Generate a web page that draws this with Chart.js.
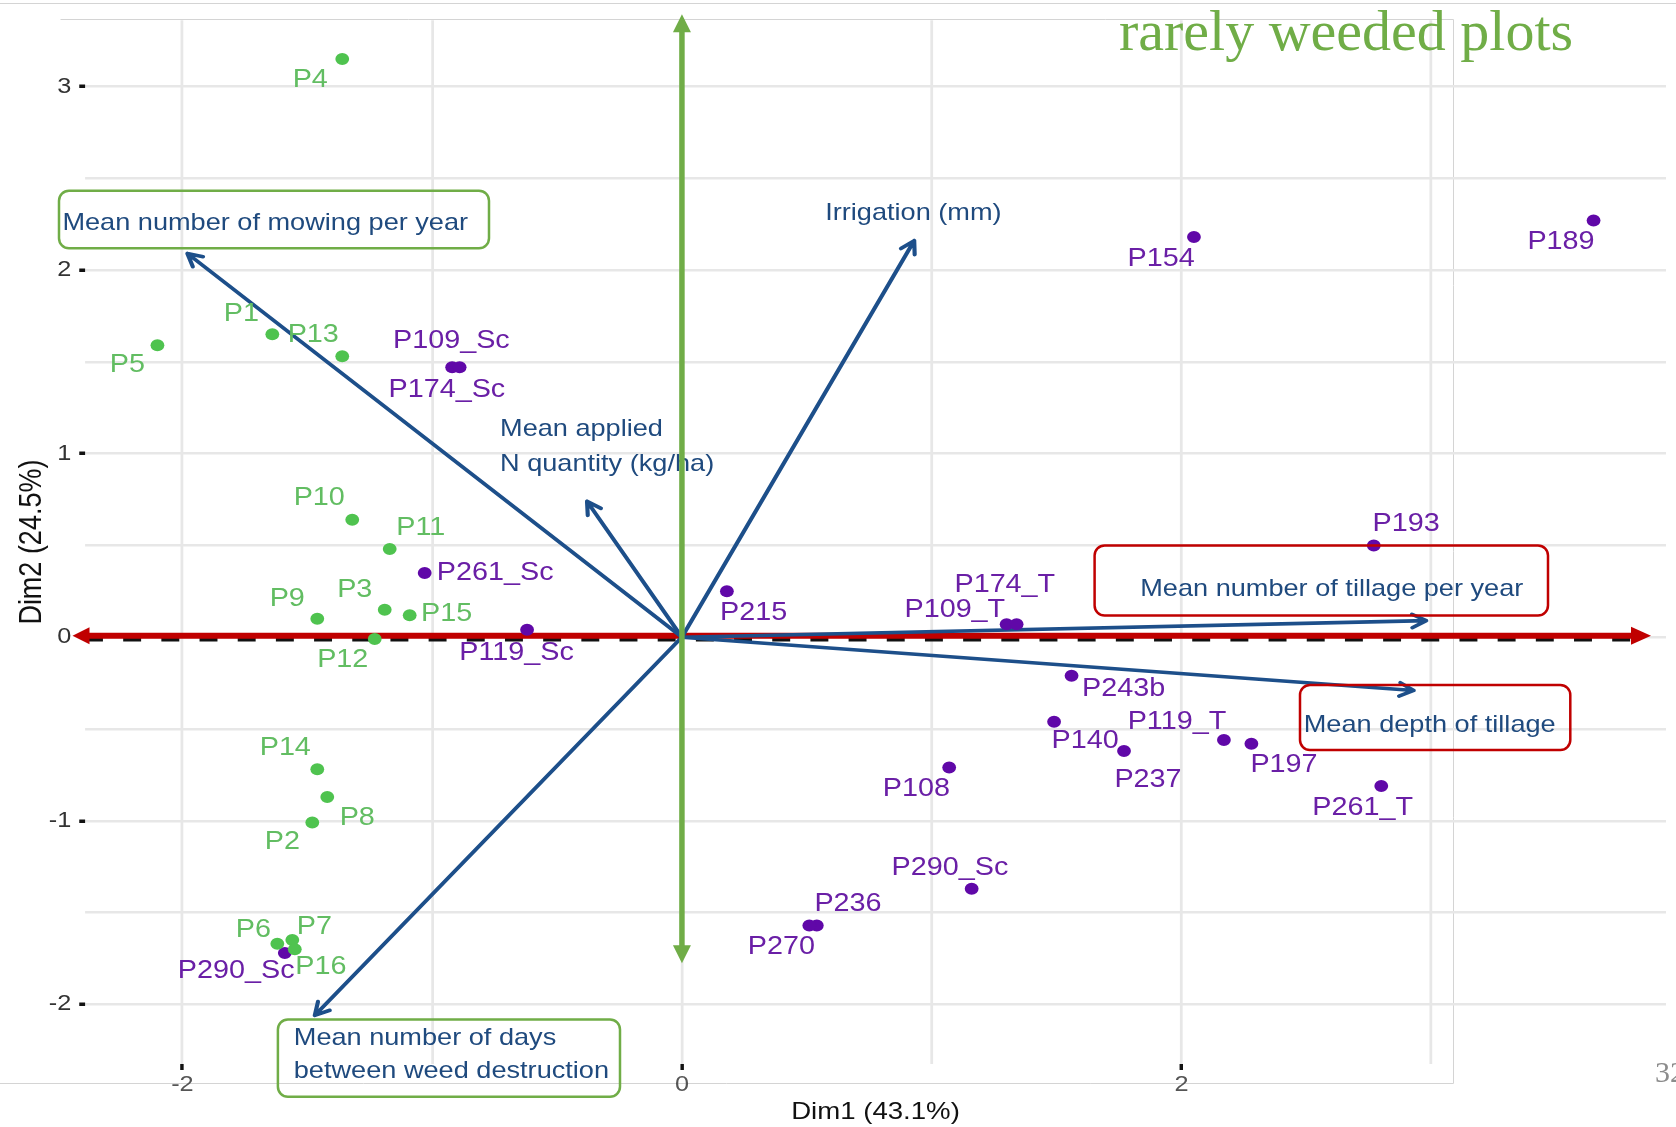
<!DOCTYPE html>
<html>
<head>
<meta charset="utf-8">
<title>PCA biplot of plots and cropping practices</title>
<script src="https://cdn.jsdelivr.net/npm/chart.js@4.4.1/dist/chart.umd.min.js"></script>
<style>
  html, body { margin: 0; padding: 0; background: #fff; }
  #wrap { position: relative; width: 1676px; height: 1127px; overflow: hidden; }
</style>
</head>
<body>
<div id="wrap"><canvas id="c"></canvas></div>
<script>
// ---- Individuals (PCA coordinates) ----
const greenPlots = ['P4','P5','P1','P13','P10','P11','P9','P3','P15','P12','P14','P8','P2','P6','P7','P16'];
const greenDim1  = [-1.36,-2.10,-1.64,-1.36,-1.32,-1.17,-1.46,-1.19,-1.09,-1.23,-1.46,-1.42,-1.48,-1.62,-1.56,-1.55];
const greenDim2  = [ 3.15, 1.59, 1.65, 1.53, 0.64, 0.48, 0.10, 0.15, 0.12,-0.01,-0.72,-0.87,-1.01,-1.67,-1.65,-1.70];

const purplePlots = ['P290_Sc','P109_Sc','P174_Sc','P261_Sc','P119_Sc','P215','P109_T','P174_T','P243b','P140','P237',
                     'P119_T','P197','P261_T','P193','P154','P189','P108','P290_Sc','P236','P270'];
const purpleDim1  = [-1.59,-0.92,-0.89,-1.03,-0.62, 0.18, 1.30, 1.34, 1.56, 1.49, 1.77,
                      2.17, 2.28, 2.80, 2.77, 2.05, 3.65, 1.07, 1.16, 0.54, 0.51];
const purpleDim2  = [-1.72, 1.47, 1.47, 0.35, 0.04, 0.25, 0.07, 0.07,-0.21,-0.46,-0.62,
                     -0.56,-0.58,-0.81, 0.50, 2.18, 2.27,-0.71,-1.37,-1.57,-1.57];

// ---- Variables (loadings drawn as arrows) ----
const varLabels = [
  ['Mean number of mowing per year'],
  ['Irrigation (mm)'],
  ['Mean applied', 'N quantity (kg/ha)'],
  ['Mean number of tillage per year'],
  ['Mean depth of tillage'],
  ['Mean number of days', 'between weed destruction']
];
const varDim1 = [-1.98, 0.93,-0.38, 2.98, 2.93,-1.47];
const varDim2 = [ 2.09, 2.16, 0.74, 0.09,-0.29,-2.06];

// ---- Axis ticks / ranges ----
const dim1Range = [-2.39, 3.94];
const dim2Range = [-2.325, 3.361];
const dim1LabelledTicks = [-2, 0, 2];
const dim2LabelledTicks = [-2, -1, 0, 1, 2, 3];
// extents of the highlighted axis arrows
const dim1ArrowSpan = [-2.44, 3.88];
const dim2ArrowSpan = [-1.776, 3.393];

// ---- Layout / styling (screen px) ----
const S = 1.15;                    // horizontal stretch of the figure
const W = 1676, H = 1127;
const AREA_LEFT = 85, AREA_RIGHT = 1666, AREA_TOP = 19, AREA_BOTTOM = 1064;
const FONT = '"Liberation Sans", Arial, sans-serif';
const GREEN_PT = '#4fc34f', GREEN_TXT = '#62bd62';
const PURPLE_PT = '#6008a8', PURPLE_TXT = '#6a1fa6';
const VAR_COL = '#1d4f8a', VAR_TXT = '#1f4a7e';
const SLIDE_GREEN = '#70ad47', SLIDE_RED = '#c00000';
const GRID = '#e7e7e7';

// label nudges relative to each point, [dx, dy] in screen px
const greenNudge = [[-32,21],[-30,20],[-31,-20],[-29,-21],[-33,-22],[31,-21],[-30,-20],[-30,-20],[37,-1.5],
                    [-32,21],[-32,-21],[30,21],[-30,20],[-24,-14],[22,-13],[26,18]];
const purpleNudge = [[-48.6,17.7],[-0.8,-26.7],[-12.8,22.4],[70.5,0],[-10.5,23.7],[26.7,21.8],[-51.8,-14.3],
                     [-11.8,-39.3],[52,13.4],[31,19],[24,29],[-47,-17.4],[32.6,21.3],[-18.6,22.3],[32.4,-21.3],
                     [-32.9,21.8],[-32.6,21.5],[-32.8,21.7],[-21.7,-20.7],[31.2,-21],[-28,22]];
// variable label placement: [dx, dy of first line, line step] from arrow tip, left aligned
const varLabelPos = [[-125,-30,34],[-89,-27,34],[-87,-72,35],[-286,-31,34],[-110,35,34],[-21,23,33.4]];
// annotation frames around some variable labels (screen px)
const frames = [
  {x0: 59,    y0: 190.7, x1: 489,    y1: 248.3, color: SLIDE_GREEN},
  {x0: 1094.6,y0: 545.5, x1: 1548,   y1: 615.5, color: SLIDE_RED},
  {x0: 1300,  y0: 685,   x1: 1570.3, y1: 750,   color: SLIDE_RED},
  {x0: 277.9, y0: 1019.5,x1: 620,    y1: 1096.7,color: SLIDE_GREEN}
];

function toPoints(xs, ys) { return xs.map((v, i) => ({x: v, y: ys[i]})); }

function inScreenSpace(ctx, fn) {
  ctx.save();
  ctx.scale(1 / S, 1);
  fn();
  ctx.restore();
}

function roundRectPath(ctx, x0, y0, x1, y1, r) {
  ctx.beginPath();
  ctx.moveTo(x0 + r, y0);
  ctx.lineTo(x1 - r, y0);
  ctx.arcTo(x1, y0, x1, y0 + r, r);
  ctx.lineTo(x1, y1 - r);
  ctx.arcTo(x1, y1, x1 - r, y1, r);
  ctx.lineTo(x0 + r, y1);
  ctx.arcTo(x0, y1, x0, y1 - r, r);
  ctx.lineTo(x0, y0 + r);
  ctx.arcTo(x0, y0, x0 + r, y0, r);
  ctx.closePath();
}

function filledHead(ctx, tipX, tipY, ang, len, half) {
  const bx = tipX - Math.cos(ang) * len, by = tipY - Math.sin(ang) * len;
  const nx = -Math.sin(ang) * half, ny = Math.cos(ang) * half;
  ctx.beginPath();
  ctx.moveTo(tipX, tipY);
  ctx.lineTo(bx + nx, by + ny);
  ctx.lineTo(bx - nx, by - ny);
  ctx.closePath();
  ctx.fill();
}

// Stretches the whole figure horizontally and adds slide elements around it.
const stretchPlugin = {
  id: 'stretch',
  beforeDraw(chart) {
    const ctx = chart.ctx;
    ctx.save();
    ctx.strokeStyle = '#d4d4d4';
    ctx.lineWidth = 1;
    ctx.beginPath();
    ctx.moveTo(0, 3.5); ctx.lineTo(W, 3.5);
    ctx.moveTo(60.5, 19.5); ctx.lineTo(1453.5, 19.5); ctx.lineTo(1453.5, 1083.5); ctx.lineTo(0, 1083.5);
    ctx.stroke();
    ctx.restore();
    ctx.save();
    ctx.scale(S, 1);
  },
  afterDraw(chart) {
    const ctx = chart.ctx;
    ctx.restore();
    ctx.save();
    ctx.fillStyle = SLIDE_GREEN;
    ctx.font = '58px "Liberation Serif", "Times New Roman", serif';
    ctx.textAlign = 'left';
    ctx.textBaseline = 'alphabetic';
    ctx.fillText('rarely weeded plots', 1119, 50);
    ctx.fillStyle = '#8c8c8c';
    ctx.font = '30px "Liberation Serif", serif';
    ctx.fillText('32', 1655, 1082);
    ctx.restore();
  }
};

const biplotPlugin = {
  id: 'biplot',
  beforeDatasetsDraw(chart) {
    const {ctx, scales: {x, y}} = chart;
    const y0 = y.getPixelForValue(0);
    // dashed reference line at Dim2 = 0
    ctx.save();
    ctx.strokeStyle = '#111';
    ctx.lineWidth = 4.5;
    ctx.setLineDash([15.6, 17.6]);
    ctx.beginPath();
    ctx.moveTo(x.left, y0 + 2);
    ctx.lineTo(x.getPixelForValue(3.86), y0 + 2);
    ctx.stroke();
    ctx.restore();

    // red double arrow along Dim1
    inScreenSpace(ctx, () => {
      const xl = x.getPixelForValue(dim1ArrowSpan[0]) * S;
      const xr = x.getPixelForValue(dim1ArrowSpan[1]) * S;
      const yy = y0 - 1.5;
      ctx.strokeStyle = SLIDE_RED;
      ctx.fillStyle = SLIDE_RED;
      ctx.lineWidth = 6;
      ctx.beginPath();
      ctx.moveTo(xl + 12, yy);
      ctx.lineTo(xr - 16, yy);
      ctx.stroke();
      filledHead(ctx, xl, yy, Math.PI, 17, 8.5);
      filledHead(ctx, xr, yy, 0, 20, 9);
    });

    // variable arrows from the origin
    const ox = x.getPixelForValue(0), oy = y0;
    ctx.save();
    ctx.strokeStyle = VAR_COL;
    ctx.lineWidth = 3.6;
    ctx.lineCap = 'round';
    ctx.lineJoin = 'round';
    varDim1.forEach((vx, i) => {
      const tx = x.getPixelForValue(vx), ty = y.getPixelForValue(varDim2[i]);
      const ang = Math.atan2(ty - oy, tx - ox);
      const len = 14, spread = 0.5;
      ctx.beginPath();
      ctx.moveTo(ox, oy);
      ctx.lineTo(tx, ty);
      ctx.moveTo(tx - Math.cos(ang - spread) * len, ty - Math.sin(ang - spread) * len);
      ctx.lineTo(tx, ty);
      ctx.lineTo(tx - Math.cos(ang + spread) * len, ty - Math.sin(ang + spread) * len);
      ctx.stroke();
    });
    ctx.restore();
  },
  afterDatasetsDraw(chart) {
    const {ctx, scales: {x, y}} = chart;
    ctx.save();
    ctx.font = '25px ' + FONT;
    ctx.textAlign = 'center';
    ctx.textBaseline = 'middle';
    const drawLabels = (names, xs, ys, nudges, color) => {
      ctx.fillStyle = color;
      names.forEach((n, i) => {
        const px = x.getPixelForValue(xs[i]) + nudges[i][0] / S;
        const py = y.getPixelForValue(ys[i]) + nudges[i][1];
        ctx.fillText(n, px, py);
      });
    };
    drawLabels(greenPlots, greenDim1, greenDim2, greenNudge, GREEN_TXT);
    drawLabels(purplePlots, purpleDim1, purpleDim2, purpleNudge, PURPLE_TXT);

    // variable names
    ctx.font = '23.6px ' + FONT;
    ctx.textAlign = 'left';
    ctx.fillStyle = VAR_TXT;
    varLabels.forEach((lines, i) => {
      const tx = x.getPixelForValue(varDim1[i]), ty = y.getPixelForValue(varDim2[i]);
      const [dx, dy, step] = varLabelPos[i];
      lines.forEach((t, k) => ctx.fillText(t, tx + dx / S, ty + dy + k * step));
    });
    ctx.restore();

    inScreenSpace(ctx, () => {
      // frames around selected variable names
      ctx.lineWidth = 2.5;
      frames.forEach(f => {
        ctx.strokeStyle = f.color;
        roundRectPath(ctx, f.x0, f.y0, f.x1, f.y1, 10);
        ctx.stroke();
      });
      // green double arrow along Dim2
      const gx = x.getPixelForValue(0) * S;
      const yt = y.getPixelForValue(dim2ArrowSpan[1]);
      const yb = y.getPixelForValue(dim2ArrowSpan[0]);
      ctx.strokeStyle = SLIDE_GREEN;
      ctx.fillStyle = SLIDE_GREEN;
      ctx.lineWidth = 5.5;
      ctx.beginPath();
      ctx.moveTo(gx, yt + 14);
      ctx.lineTo(gx, yb - 14);
      ctx.stroke();
      filledHead(ctx, gx, yt, -Math.PI / 2, 18, 9);
      filledHead(ctx, gx, yb, Math.PI / 2, 18, 9);
    });
  }
};

const tickFont = {family: FONT, size: 22};
const isLabelled = (list, v) => list.some(t => Math.abs(t - v) < 1e-9);

new Chart(document.getElementById('c'), {
  type: 'scatter',
  data: {
    datasets: [
      {
        label: 'Frequently weeded plots',
        data: toPoints(greenDim1, greenDim2),
        backgroundColor: GREEN_PT,
        borderWidth: 0,
        pointRadius: 6
      },
      {
        label: 'Rarely weeded plots',
        data: toPoints(purpleDim1, purpleDim2),
        backgroundColor: PURPLE_PT,
        borderWidth: 0,
        pointRadius: 6
      }
    ]
  },
  options: {
    responsive: true,
    maintainAspectRatio: false,
    animation: false,
    events: [],
    layout: { padding: { left: 0, right: W - AREA_RIGHT / S, top: AREA_TOP, bottom: 0 } },
    plugins: { legend: { display: false }, tooltip: { enabled: false } },
    scales: {
      x: {
        type: 'linear',
        min: dim1Range[0],
        max: dim1Range[1],
        afterFit: s => { s.height = H - AREA_BOTTOM; },
        border: { display: false },
        grid: {
          color: GRID,
          lineWidth: 2.4,
          tickLength: 6,
          tickWidth: 3,
          tickColor: c => (c.tick && isLabelled(dim1LabelledTicks, c.tick.value)) ? '#111' : 'rgba(0,0,0,0)'
        },
        ticks: {
          stepSize: 1,
          includeBounds: false,
          autoSkip: false,
          maxRotation: 0,
          padding: 2,
          color: '#555',
          font: tickFont,
          callback: v => isLabelled(dim1LabelledTicks, v) ? String(v) : ''
        },
        title: {
          display: true,
          text: 'Dim1 (43.1%)',
          color: '#111',
          font: { family: FONT, size: 24 },
          padding: { top: 0, bottom: 0 }
        }
      },
      y: {
        type: 'linear',
        min: dim2Range[0],
        max: dim2Range[1],
        afterFit: s => { s.width = AREA_LEFT / S; },
        border: { display: false },
        grid: {
          color: GRID,
          lineWidth: 2.5,
          tickLength: 5,
          tickWidth: 3.5,
          tickColor: c => (c.tick && isLabelled(dim2LabelledTicks, c.tick.value)) ? '#111' : 'rgba(0,0,0,0)'
        },
        ticks: {
          stepSize: 0.5,
          includeBounds: false,
          autoSkip: false,
          padding: 7,
          color: '#333',
          font: tickFont,
          callback: v => isLabelled(dim2LabelledTicks, v) ? String(v) : ''
        },
        title: {
          display: true,
          text: 'Dim2 (24.5%)',
          color: '#111',
          font: { family: FONT, size: 27 },
          padding: { top: 12, bottom: 0 }
        }
      }
    }
  },
  plugins: [stretchPlugin, biplotPlugin]
});
</script>
</body>
</html>
